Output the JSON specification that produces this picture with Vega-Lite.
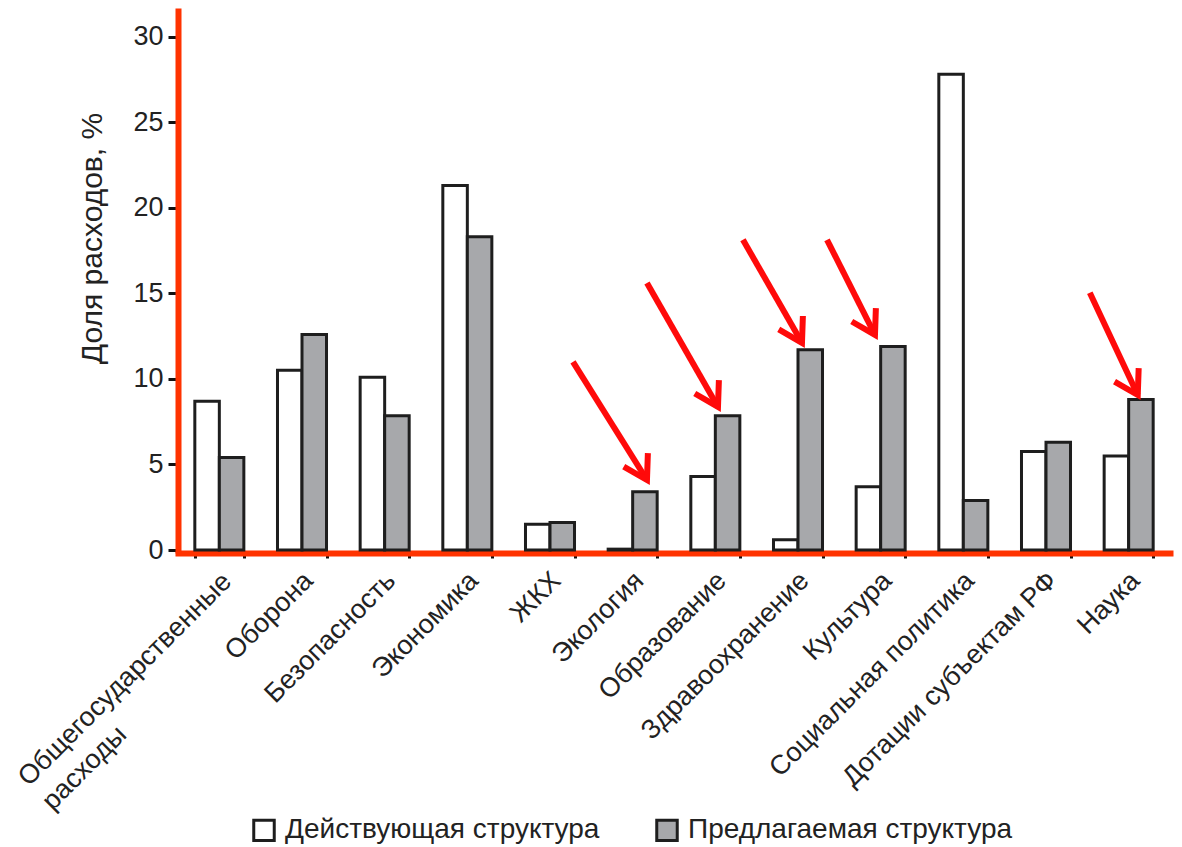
{
  "$schema": "https://vega.github.io/schema/vega-lite/v6.json",
  "width": 992,
  "height": 539,
  "autosize": {"type": "none"},
  "padding": {"left": 178, "top": 11, "right": 12, "bottom": 297},
  "background": "white",
  "config": {
    "view": {"stroke": null},
    "font": "Liberation Sans",
    "axis": {"labelFont": "Liberation Sans", "titleFont": "Liberation Sans", "labelColor": "#222", "titleColor": "#222", "grid": false},
    "legend": {"labelFont": "Liberation Sans"}
  },
  "datasets": {
    "bars": [
      {"cat": "Общегосударственные расходы", "struct": "Действующая структура", "value": 8.7},
      {"cat": "Общегосударственные расходы", "struct": "Предлагаемая структура", "value": 5.4},
      {"cat": "Оборона", "struct": "Действующая структура", "value": 10.5},
      {"cat": "Оборона", "struct": "Предлагаемая структура", "value": 12.6},
      {"cat": "Безопасность", "struct": "Действующая структура", "value": 10.1},
      {"cat": "Безопасность", "struct": "Предлагаемая структура", "value": 7.85},
      {"cat": "Экономика", "struct": "Действующая структура", "value": 21.3},
      {"cat": "Экономика", "struct": "Предлагаемая структура", "value": 18.3},
      {"cat": "ЖКХ", "struct": "Действующая структура", "value": 1.5},
      {"cat": "ЖКХ", "struct": "Предлагаемая структура", "value": 1.6},
      {"cat": "Экология", "struct": "Действующая структура", "value": 0.05},
      {"cat": "Экология", "struct": "Предлагаемая структура", "value": 3.4},
      {"cat": "Образование", "struct": "Действующая структура", "value": 4.3},
      {"cat": "Образование", "struct": "Предлагаемая структура", "value": 7.85},
      {"cat": "Здравоохранение", "struct": "Действующая структура", "value": 0.6},
      {"cat": "Здравоохранение", "struct": "Предлагаемая структура", "value": 11.7},
      {"cat": "Культура", "struct": "Действующая структура", "value": 3.7},
      {"cat": "Культура", "struct": "Предлагаемая структура", "value": 11.9},
      {"cat": "Социальная политика", "struct": "Действующая структура", "value": 27.8},
      {"cat": "Социальная политика", "struct": "Предлагаемая структура", "value": 2.9},
      {"cat": "Дотации субъектам РФ", "struct": "Действующая структура", "value": 5.75},
      {"cat": "Дотации субъектам РФ", "struct": "Предлагаемая структура", "value": 6.3},
      {"cat": "Наука", "struct": "Действующая структура", "value": 5.5},
      {"cat": "Наука", "struct": "Предлагаемая структура", "value": 8.8}
    ],
    "arrows": [
      {"target": "Экология", "u1": 4.778, "v1": 10.99, "u2": 5.673, "v2": 4.09},
      {"target": "Образование", "u1": 5.673, "v1": 15.61, "u2": 6.532, "v2": 8.36},
      {"target": "Здравоохранение", "u1": 6.834, "v1": 18.13, "u2": 7.548, "v2": 12.11},
      {"target": "Культура", "u1": 7.851, "v1": 18.13, "u2": 8.431, "v2": 12.57},
      {"target": "Наука", "u1": 11.03, "v1": 15.03, "u2": 11.61, "v2": 9.06}
    ]
  },
  "layer": [
    {
      "data": {"name": "bars"},
      "mark": {"type": "bar", "stroke": "#1e1e1e", "strokeWidth": 3},
      "encoding": {
        "x": {
          "field": "cat",
          "type": "nominal",
          "sort": null,
          "scale": {"paddingInner": 0.407, "paddingOuter": 0.2035},
          "axis": {
            "title": null,
            "offset": 3,
            "domainColor": "#ff3300",
            "domainWidth": 6,
            "domainCap": "square",
            "tickBand": "extent",
            "tickColor": "#111",
            "tickSize": 5,
            "tickWidth": 3,
            "labelAngle": -45,
            "labelAlign": {"condition": {"test": "datum.value == 'Общегосударственные расходы'", "value": "left"}, "value": "right"},
            "labelBaseline": "top",
            "labelPadding": {"condition": {"test": "datum.value == 'Общегосударственные расходы'", "value": 214}, "value": 9},
            "labelOffset": {"condition": {"test": "datum.value == 'Общегосударственные расходы'", "value": -206}, "value": -3},
            "labelFontSize": 27,
            "labelLimit": 0,
            "labelLineHeight": 34,
            "labelExpr": "datum.label == 'Общегосударственные расходы' ? ['Общегосударственные', 'расходы'] : datum.label"
          }
        },
        "xOffset": {
          "field": "struct",
          "type": "nominal",
          "sort": ["Действующая структура", "Предлагаемая структура"],
          "scale": {"paddingInner": 0, "paddingOuter": 0}
        },
        "y": {
          "field": "value",
          "type": "quantitative",
          "scale": {"domain": [0, 31.5], "nice": false},
          "axis": {
            "title": "Доля расходов, %",
            "values": [0, 5, 10, 15, 20, 25, 30],
            "domainColor": "#ff3300",
            "domainWidth": 6,
            "domainCap": "square",
            "tickColor": "#111",
            "tickSize": 10,
            "tickWidth": 3,
            "labelFontSize": 27,
            "labelPadding": 5,
            "titleFontSize": 30,
            "titleFontWeight": "normal",
            "titleAngle": -90,
            "titleX": -86,
            "titleY": 227,
            "titleAlign": "center",
            "titleBaseline": "middle"
          }
        },
        "fill": {
          "field": "struct",
          "type": "nominal",
          "scale": {"domain": ["Действующая структура", "Предлагаемая структура"], "range": ["#ffffff", "#a7a8ab"]},
          "legend": {
            "title": null,
            "orient": "none",
            "direction": "horizontal",
            "legendX": 72,
            "legendY": 805,
            "padding": 0,
            "symbolType": "square",
            "symbolSize": 420,
            "symbolStrokeColor": "#1e1e1e",
            "symbolStrokeWidth": 3,
            "labelFontSize": 28,
            "labelColor": "#222",
            "labelLimit": 0,
            "labelOffset": 7,
            "columnPadding": 50
          }
        }
      }
    },
    {
      "data": {"name": "arrows"},
      "mark": {"type": "rule", "color": "#ff0a0a", "strokeWidth": 6, "strokeCap": "butt"},
      "encoding": {
        "x": {"field": "u1", "type": "quantitative", "scale": {"domain": [0, 12], "nice": false, "zero": false}, "axis": null},
        "x2": {"field": "u2"},
        "y": {"field": "v1", "type": "quantitative", "scale": {"domain": [0, 31.5], "nice": false}},
        "y2": {"field": "v2"}
      }
    },
    {
      "data": {"name": "arrows"},
      "mark": {"type": "point", "shape": "M -0.6 -1 L 0 0 L 0.6 -1", "filled": false, "stroke": "#ff0a0a", "strokeWidth": 6, "size": 2116, "angle": -29, "opacity": 1},
      "encoding": {
        "x": {"field": "u2", "type": "quantitative", "scale": {"domain": [0, 12], "nice": false, "zero": false}, "axis": null},
        "y": {"field": "v2", "type": "quantitative", "scale": {"domain": [0, 31.5], "nice": false}}
      }
    }
  ],
  "resolve": {"scale": {"x": "independent"}, "axis": {"x": "independent"}}
}
